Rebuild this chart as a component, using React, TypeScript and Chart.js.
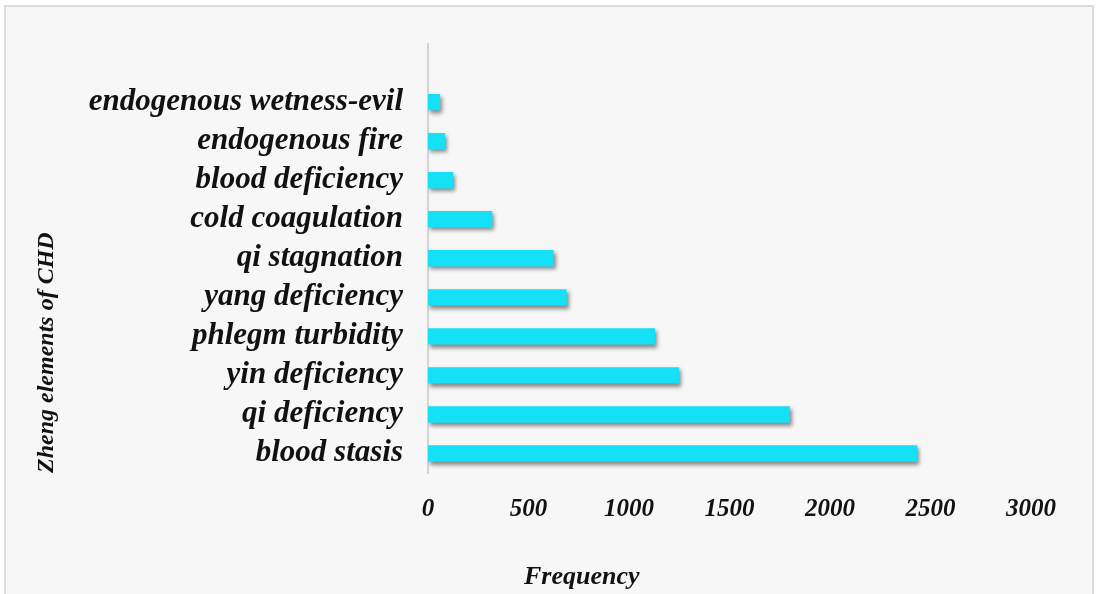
import { useEffect, useRef } from 'react';
import { Chart, registerables } from 'chart.js';

Chart.register(...registerables);

// Categories listed bottom-to-top (as in the source sheet)
const categories = [
  'blood stasis',
  'qi deficiency',
  'yin deficiency',
  'phlegm turbidity',
  'yang deficiency',
  'qi stagnation',
  'cold coagulation',
  'blood deficiency',
  'endogenous fire',
  'endogenous wetness-evil',
];
const frequencies = [2435, 1800, 1250, 1130, 690, 625, 320, 125, 85, 60];
const xTickValues = [0, 500, 1000, 1500, 2000, 2500, 3000];
const xTitle = 'Frequency';
const yTitle = 'Zheng elements of CHD';

const FONT = "'Liberation Serif', 'Times New Roman', serif";
const BAR_COLOR = '#14E1F6';

const barShadow = {
  id: 'barShadow',
  beforeDatasetsDraw(chart: any) {
    const ctx = chart.ctx;
    ctx.save();
    ctx.shadowColor = 'rgba(0,0,0,0.45)';
    ctx.shadowBlur = 4;
    ctx.shadowOffsetX = 2;
    ctx.shadowOffsetY = 3;
  },
  afterDatasetsDraw(chart: any) {
    chart.ctx.restore();
  },
};

export default function App() {
  const canvasRef = useRef<HTMLCanvasElement | null>(null);

  useEffect(() => {
    if (!canvasRef.current) return;
    const chart = new Chart(canvasRef.current, {
      type: 'bar',
      data: {
        datasets: [
          {
            label: 'Frequency',
            data: frequencies.map((v, i) => ({ x: v, y: i })),
            backgroundColor: BAR_COLOR,
            borderWidth: 0,
            categoryPercentage: 1,
            barPercentage: 0.42,
          },
        ],
      },
      plugins: [barShadow],
      options: {
        indexAxis: 'y',
        responsive: false,
        animation: false,
        layout: { padding: { left: 28, right: 67, top: 41, bottom: 0 } },
        plugins: {
          legend: { display: false },
          tooltip: { enabled: false },
          title: { display: false },
        },
        scales: {
          x: {
            type: 'linear',
            min: xTickValues[0],
            max: xTickValues[xTickValues.length - 1],
            afterBuildTicks: (scale: any) => {
              scale.ticks = xTickValues.map((v) => ({ value: v }));
            },
            afterFit: (scale: any) => {
              scale.height = 121;
            },
            grid: { display: false, drawTicks: false },
            border: { display: false },
            ticks: {
              padding: 22,
              color: '#111',
              callback: (v: any) => String(v),
              font: { family: FONT, size: 25, weight: 'bold', style: 'italic' },
            },
          },
          y: {
            type: 'linear',
            offset: false,
            min: -0.5,
            max: categories.length + 0.5,
            afterBuildTicks: (scale: any) => {
              scale.ticks = categories.map((_, i) => ({ value: i }));
            },
            afterFit: (scale: any) => {
              scale.width = 400;
            },
            grid: { display: false, drawTicks: false, offset: false },
            border: { display: true, color: '#d4d4d4', width: 2 },
            ticks: {
              padding: 25,
              color: '#111',
              callback: (v: any) => categories[v] ?? '',
              font: { family: FONT, size: 31, weight: 'bold', style: 'italic' },
            },
            title: {
              display: true,
              text: yTitle,
              align: 'start',
              color: '#111',
              padding: { top: 4, bottom: 4 },
              font: { family: FONT, size: 24, weight: 'bold', style: 'italic' },
            },
          },
        },
      } as any,
    });
    return () => chart.destroy();
  }, []);

  return (
    <div style={{ position: 'absolute', left: 0, top: 0, width: 1098, height: 594, overflow: 'hidden', background: '#ffffff' }}>
      <div
        style={{
          position: 'absolute',
          left: 4,
          top: 5,
          width: 1090,
          height: 600,
          boxSizing: 'border-box',
          border: '2px solid #dcdcdc',
          background: '#f7f7f7',
        }}
      />
      <canvas ref={canvasRef} width={1098} height={594} style={{ position: 'absolute', left: 0, top: 0 }} />
      <div
        style={{
          position: 'absolute',
          left: 524,
          top: 561,
          fontFamily: FONT,
          fontSize: 26,
          fontWeight: 'bold',
          fontStyle: 'italic',
          color: '#111',
          lineHeight: '30px',
          whiteSpace: 'nowrap',
        }}
      >
        {xTitle}
      </div>
    </div>
  );
}
